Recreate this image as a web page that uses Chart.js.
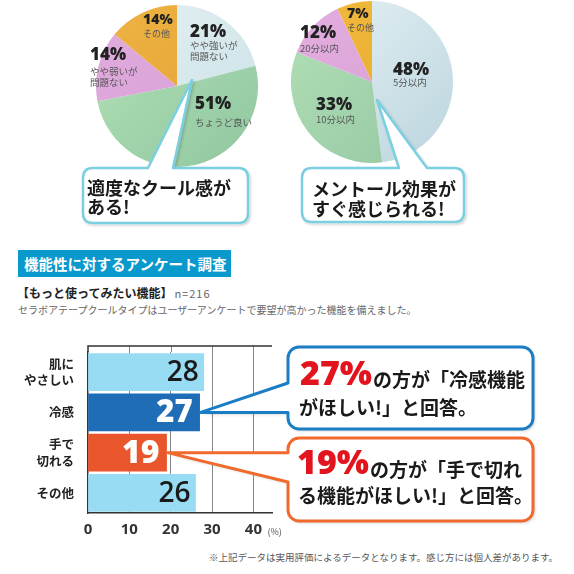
<!DOCTYPE html>
<html lang="ja">
<head>
<meta charset="utf-8">
<script src="https://cdn.jsdelivr.net/npm/chart.js@4.4.1/dist/chart.umd.min.js"></script>
<style>
  body { margin: 0; background: #fff; font-family: "Noto Sans CJK JP", sans-serif; }
  #page { position: relative; width: 574px; height: 574px; overflow: hidden; }
  canvas { position: absolute; }
  .abs { position: absolute; white-space: nowrap; }
  .pct { font-family: "Open Sans", "Noto Sans", sans-serif; font-weight: 800; color: #222; z-index: 4; }
  .sub { font-size: 9.5px; line-height: 11.5px; color: #555; z-index: 4; }
  .bubble { z-index: 4; font-size: 18px; font-weight: 700; color: #1a1a1a; }
  #header { left: 18px; top: 250px; width: 207px; height: 27px; padding-left: 6px; background: #0a99cc;
            color: #fff; font-weight: 700; font-size: 14.5px; line-height: 27px; }
  #sub { left: 17px; top: 285px; font-size: 12px; font-weight: 700; line-height: 16px; color: #222; }
  #sub span { font-weight: 400; font-size: 11px; color: #666; letter-spacing: 1px; margin-left: 2px; }
  #desc { left: 18px; top: 303px; font-size: 10px; line-height: 14px; color: #666; }
  #note { right: 16px; top: 551px; font-size: 9.5px; line-height: 12px; color: #555; }
</style>
</head>
<body>
<div id="page">
  <canvas id="pie1" width="162" height="162" style="left:96px;top:5px"></canvas>
  <canvas id="pie2" width="162" height="162" style="left:291px;top:1px"></canvas>
  <svg class="abs" width="574" height="240" style="left:0;top:0;z-index:3">
    <defs>
      <filter id="sh" x="-10%" y="-10%" width="130%" height="130%">
        <feDropShadow dx="1.5" dy="1.5" stdDeviation="1.2" flood-color="#000" flood-opacity="0.18"/>
      </filter>
    </defs>
    <path filter="url(#sh)" fill="#fff" stroke="#7ccfe0" stroke-width="2.5" stroke-linejoin="round"
      d="M93,168 L148,168 L192,80 L173,168 L238,168 Q248,168 248,178 L248,213 Q248,223 238,223 L93,223 Q83,223 83,213 L83,178 Q83,168 93,168 Z"/>
    <path filter="url(#sh)" fill="#fff" stroke="#7ccfe0" stroke-width="2.5" stroke-linejoin="round"
      d="M312,168 L399,168 L377,100 L427,168 L454,168 Q464,168 464,178 L464,212 Q464,222 454,222 L312,222 Q302,222 302,212 L302,178 Q302,168 312,168 Z"/>
  </svg>
  <div class="abs bubble" style="left:87px;top:178px;line-height:19px">適度なクール感が<br>ある!</div>
  <div class="abs bubble" style="left:312px;top:178px;line-height:20px">メントール効果が<br>すぐ感じられる!</div>

  <div id="header" class="abs">機能性に対するアンケート調査</div>
  <div id="sub" class="abs">【もっと使ってみたい機能】<span>n=216</span></div>
  <div id="desc" class="abs">セラボアテープクールタイプはユーザーアンケートで要望が高かった機能を備えました。</div>

  <canvas id="bars" width="574" height="215" style="left:0;top:330px"></canvas>
  <div id="note" class="abs">※上記データは実用評価によるデータとなります。感じ方には個人差があります。</div>
</div>

<script>
// 冷感の強さ
const pie1Labels = ['やや強いが\n問題ない', 'ちょうど良い', 'やや弱いが\n問題ない', 'その他'];
const pie1Values = [21, 51, 14, 14];
// 効果を感じるまでの時間
const pie2Labels = ['5分以内', '10分以内', '20分以内', 'その他'];
const pie2Values = [48, 33, 12, 7];
// もっと使ってみたい機能
const barCategories = [['肌に', 'やさしい'], '冷感', ['手で', '切れる'], 'その他'];
const barValues = [28, 27, 19, 26];
const xTickValues = [0, 10, 20, 30, 40];

const JP = '"Noto Sans CJK JP", sans-serif';
const NUM = '"Open Sans", "Noto Sans", sans-serif';

// slice colours (light, dark) for a soft gradient
const pie1Colors = [['#e6f2f4', '#c8dfe5'], ['#b4e2b6', '#8fc6a0'], ['#e2acdf', '#d49dd2'], ['#eeb444', '#e19f33']];
const pie2Colors = [['#e6f2f5', '#bcd5de'], ['#b3e0b6', '#93c6a2'], ['#e4aee0', '#d59ed3'], ['#f2bc3e', '#e5a52c']];
// label spots: left, top of %, top of sub text, % font size
const pie1LabelPos = [[190, 22, 39.5, 17], [195, 94, 116.5, 17], [90, 45, 65.5, 17], [143, 11.5, 27.5, 14]];
const pie2LabelPos = [[393, 60, 77, 17], [316, 95, 114, 17], [300, 23, 43, 17], [347, 6, 22, 14]];

const barColors = ['#97dcf3', '#1f6db6', '#e9562b', '#97dcf3'];
const barLabelStyle = [
  { color: '#1a1a1a', weight: 600, size: 28, inset: 5 },
  { color: '#fff', weight: 800, size: 31, inset: 7 },
  { color: '#fff', weight: 800, size: 32, inset: 7 },
  { color: '#1a1a1a', weight: 600, size: 28, inset: 5 }
];

function sliceFill(pairs) {
  return (c) => {
    const a = c.chart.chartArea;
    if (!a) return pairs[c.dataIndex][0];
    const g = c.chart.ctx.createLinearGradient(a.left, a.top, a.right, a.bottom);
    g.addColorStop(0, pairs[c.dataIndex][0]);
    g.addColorStop(1, pairs[c.dataIndex][1]);
    return g;
  };
}

function makePie(id, labels, values, colors) {
  new Chart(document.getElementById(id), {
    type: 'pie',
    data: { labels: labels, datasets: [{ data: values, backgroundColor: sliceFill(colors), borderWidth: 0 }] },
    options: {
      responsive: false,
      animation: false,
      layout: { padding: 0 },
      plugins: { legend: { display: false }, tooltip: { enabled: false } }
    }
  });
}

function addPieLabels(values, labels, pos) {
  const page = document.getElementById('page');
  values.forEach((v, i) => {
    const [x, top, subTop, size] = pos[i];
    const p = document.createElement('div');
    p.className = 'abs pct';
    p.style.cssText = `left:${x}px;top:${top}px;font-size:${size}px;line-height:${size}px`;
    p.textContent = v + '%';
    page.appendChild(p);
    const s = document.createElement('div');
    s.className = 'abs sub';
    s.style.cssText = `left:${x}px;top:${subTop}px` + (size < 15 ? ';font-size:9px' : '');
    s.innerHTML = labels[i].replace('\n', '<br>');
    page.appendChild(s);
  });
}

makePie('pie1', pie1Labels, pie1Values, pie1Colors);
makePie('pie2', pie2Labels, pie2Values, pie2Colors);
addPieLabels(pie1Values, pie1Labels, pie1LabelPos);
addPieLabels(pie2Values, pie2Labels, pie2LabelPos);

const CANVAS_TOP = 330;

function callout(ctx, box, tip, gapTop, gapBottom, color) {
  const { x0, y0, x1, y1 } = box;
  const r = 11;
  ctx.save();
  ctx.beginPath();
  ctx.moveTo(x0, gapBottom);
  ctx.lineTo(x0, y1 - r);
  ctx.arcTo(x0, y1, x0 + r, y1, r);
  ctx.lineTo(x1 - r, y1);
  ctx.arcTo(x1, y1, x1, y1 - r, r);
  ctx.lineTo(x1, y0 + r);
  ctx.arcTo(x1, y0, x1 - r, y0, r);
  ctx.lineTo(x0 + r, y0);
  ctx.arcTo(x0, y0, x0, y0 + r, r);
  ctx.lineTo(x0, gapTop);
  ctx.lineTo(tip.x, tip.y);
  ctx.closePath();
  ctx.shadowColor = 'rgba(0,0,0,0.18)';
  ctx.shadowBlur = 3;
  ctx.shadowOffsetX = 2;
  ctx.shadowOffsetY = 2;
  ctx.fillStyle = '#fff';
  ctx.fill();
  ctx.shadowColor = 'transparent';
  ctx.lineWidth = 3;
  ctx.lineJoin = 'round';
  ctx.strokeStyle = color;
  ctx.stroke();
  ctx.restore();
}

function runs(ctx, x, parts) {
  for (const p of parts) {
    ctx.font = p.font;
    ctx.fillStyle = p.color;
    ctx.fillText(p.text, x, p.y);
    x += ctx.measureText(p.text).width + (p.gap || 0);
  }
}

const barExtras = {
  id: 'barExtras',
  afterDraw(chart) {
    const { ctx, chartArea: a, scales: { x } } = chart;
    const bars = chart.getDatasetMeta(0).data;
    const T = CANVAS_TOP;
    ctx.save();
    // top frame line sits a little above the first bar
    const topY = a.top - 6;
    ctx.strokeStyle = '#888';
    ctx.lineWidth = 1;
    xTickValues.slice(1).forEach(v => {
      const px = Math.round(x.getPixelForValue(v)) + 0.5;
      ctx.beginPath(); ctx.moveTo(px, topY); ctx.lineTo(px, a.top); ctx.stroke();
    });
    ctx.strokeStyle = '#333';
    ctx.lineWidth = 1.5;
    ctx.beginPath();
    ctx.moveTo(a.left, a.top);
    ctx.lineTo(a.left, topY);
    ctx.lineTo(a.right, topY);
    ctx.stroke();

    // unit
    ctx.font = '9px ' + JP;
    ctx.fillStyle = '#555';
    ctx.textBaseline = 'middle';
    ctx.fillText('(%)', x.getPixelForValue(40) + 14, 532 - T);

    // values inside bars
    ctx.textAlign = 'right';
    bars.forEach((b, i) => {
      const s = barLabelStyle[i];
      ctx.font = `${s.weight} ${s.size}px ${NUM}`;
      ctx.fillStyle = s.color;
      ctx.fillText(String(barValues[i]), b.x - s.inset, b.y + 1);
    });
    ctx.restore();

    // callouts pointing at 冷感 and 手で切れる
    const tipA = { x: bars[1].x + 1, y: bars[1].y };
    const tipB = { x: bars[2].x + 1, y: bars[2].y };
    callout(ctx, { x0: 288, y0: 347 - T, x1: 533, y1: 429 - T }, tipA, 383 - T, tipA.y, '#1b7dc4');
    callout(ctx, { x0: 288, y0: 438 - T, x1: 533, y1: 521 - T }, tipB, tipB.y, 482 - T, '#ef6a2c');

    ctx.save();
    ctx.textAlign = 'left';
    ctx.textBaseline = 'alphabetic';
    const red = '#e2141e', ink = '#1a1a1a';
    runs(ctx, 300, [
      { text: barValues[1] + '%', font: `800 34px ${NUM}`, color: red, y: 385 - T, gap: 1 },
      { text: 'の方が「冷感機能', font: `700 19px ${JP}`, color: ink, y: 387 - T }
    ]);
    runs(ctx, 299, [{ text: 'がほしい!」と回答。', font: `700 19px ${JP}`, color: ink, y: 415 - T }]);
    runs(ctx, 297, [
      { text: barValues[2] + '%', font: `800 34px ${NUM}`, color: red, y: 474 - T, gap: 1 },
      { text: 'の方が「手で切れ', font: `700 19px ${JP}`, color: ink, y: 477 - T }
    ]);
    runs(ctx, 298, [{ text: 'る機能がほしい!」と回答。', font: `700 19px ${JP}`, color: ink, y: 503 - T }]);
    ctx.restore();
  }
};

new Chart(document.getElementById('bars'), {
  type: 'bar',
  data: {
    labels: barCategories,
    datasets: [{ data: barValues, backgroundColor: barColors, barThickness: 37 }]
  },
  options: {
    indexAxis: 'y',
    responsive: false,
    animation: false,
    layout: { padding: { top: 22, right: 302, left: 0, bottom: 0 } },
    plugins: { legend: { display: false }, tooltip: { enabled: false } },
    scales: {
      x: {
        min: 0,
        max: 44.5,
        afterBuildTicks: s => { s.ticks = xTickValues.map(v => ({ value: v })); },
        ticks: {
          autoSkip: false,
          font: { family: NUM, size: 15, weight: 'bold' },
          color: '#333',
          padding: 8
        },
        grid: {
          drawTicks: false,
          color: c => (c.tick && c.tick.value > 0 ? '#888' : 'rgba(0,0,0,0)'),
          lineWidth: 1
        },
        border: { color: '#333', width: 1.5 },
        afterFit: s => { s.height = 32; }
      },
      y: {
        ticks: {
          font: { family: JP, size: 12.5, weight: 'bold', lineHeight: 1.3 },
          color: '#222',
          padding: 6
        },
        grid: { display: false },
        border: { color: '#333', width: 1.5 },
        afterFit: s => { s.width = 88; }
      }
    }
  },
  plugins: [barExtras]
});
</script>
</body>
</html>
